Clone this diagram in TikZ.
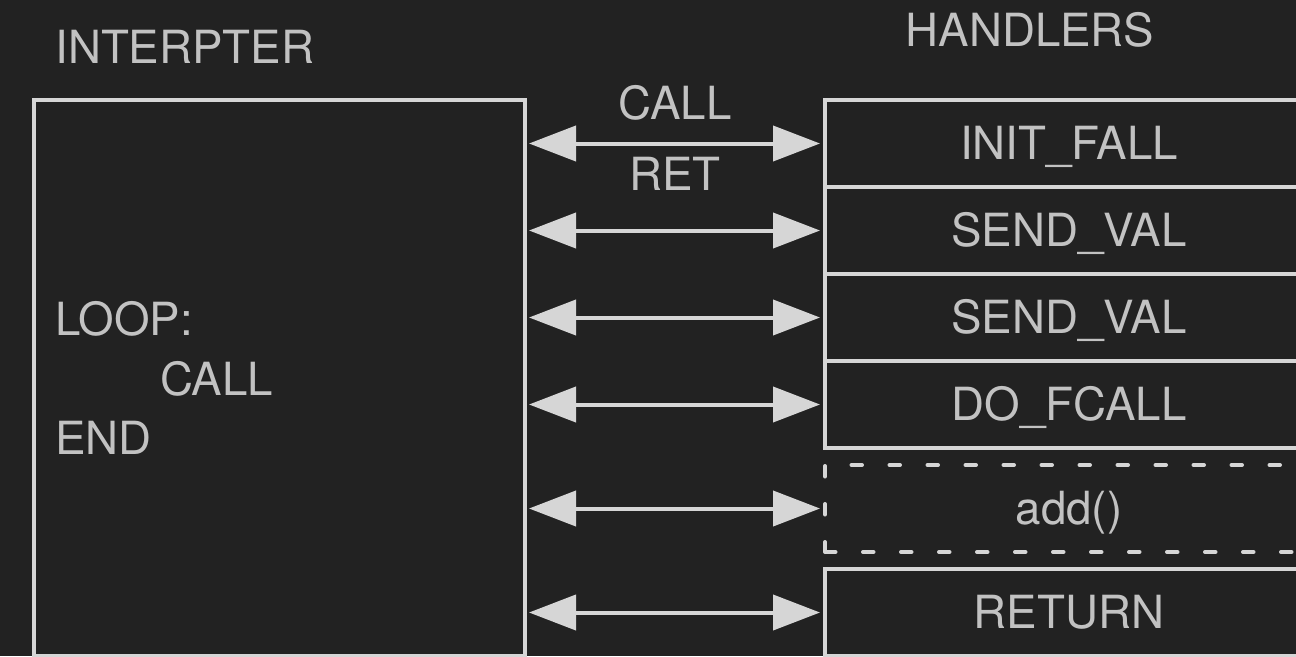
\documentclass[tikz,border=0pt]{standalone}
\usepackage{fontspec}
\setmainfont{TeX Gyre Heros}
\usepackage{tikz}
\usetikzlibrary{arrows.meta,positioning}
\definecolor{BgDark}{RGB}{34,34,34}
\definecolor{LineGray}{RGB}{214,214,214}
\definecolor{TextGray}{RGB}{194,194,194}
\begin{document}
\begin{tikzpicture}[
  box/.style={draw=LineGray,line width=0.08cm,inner sep=0pt,outer sep=0pt},
  handler/.style={box,minimum width=9.76cm,minimum height=1.74cm,
                  text=TextGray,font=\fontsize{26}{31}\selectfont,
                  text height=18.6pt,text depth=0pt},
  dashbox/.style={dash pattern=on 0.21cm off 0.55cm,line cap=round},
  title/.style={text=TextGray,font=\fontsize{26}{31}\selectfont,inner sep=0pt},
  link/.style={LineGray,line width=0.08cm,
               {Triangle[length=0.94cm,width=0.7cm]}-{Triangle[length=0.94cm,width=0.7cm]},
               shorten <=0.08cm,shorten >=0.1cm},
]
\fill[BgDark] (0,0) rectangle (25.92,13.12);
\useasboundingbox (0,0) rectangle (25.92,13.12);
\clip (0,0) rectangle (25.92,13.12);
\node[title,anchor=west] (ititle) at (1.10,12.18) {INTERPTER};
\node[title] (htitle) at (20.60,12.52) {HANDLERS};
\node[box,minimum width=9.83cm,minimum height=11.12cm,text width=8.97cm,
      align=left,inner xsep=0.43cm,text=TextGray,
      font=\fontsize{26}{33.7}\selectfont] (interp) at (5.585,5.56)
      {LOOP:\\\hspace*{2.1cm}CALL\\END};
\node[handler] (init) at (21.38,10.25) {INIT\_FALL};
\node[handler,below=0pt of init] (send1) {SEND\_VAL};
\node[handler,below=0pt of send1] (send2) {SEND\_VAL};
\node[handler,below=0pt of send2] (fcall) {DO\_FCALL};
\node[handler,dashbox,below=0.34cm of fcall] (add) {add()};
\node[handler,below=0.34cm of add] (ret) {RETURN};
\draw[link] (interp.east |- init.west) -- (init.west)
  node[midway,above=0.42cm,title] {CALL}
  node[midway,below=0.24cm,title] {RET};
\draw[link] (interp.east |- send1.west) -- (send1.west);
\draw[link] (interp.east |- send2.west) -- (send2.west);
\draw[link] (interp.east |- fcall.west) -- (fcall.west);
\draw[link] (interp.east |- add.west) -- (add.west);
\draw[link] (interp.east |- ret.west) -- (ret.west);
\end{tikzpicture}
\end{document}
